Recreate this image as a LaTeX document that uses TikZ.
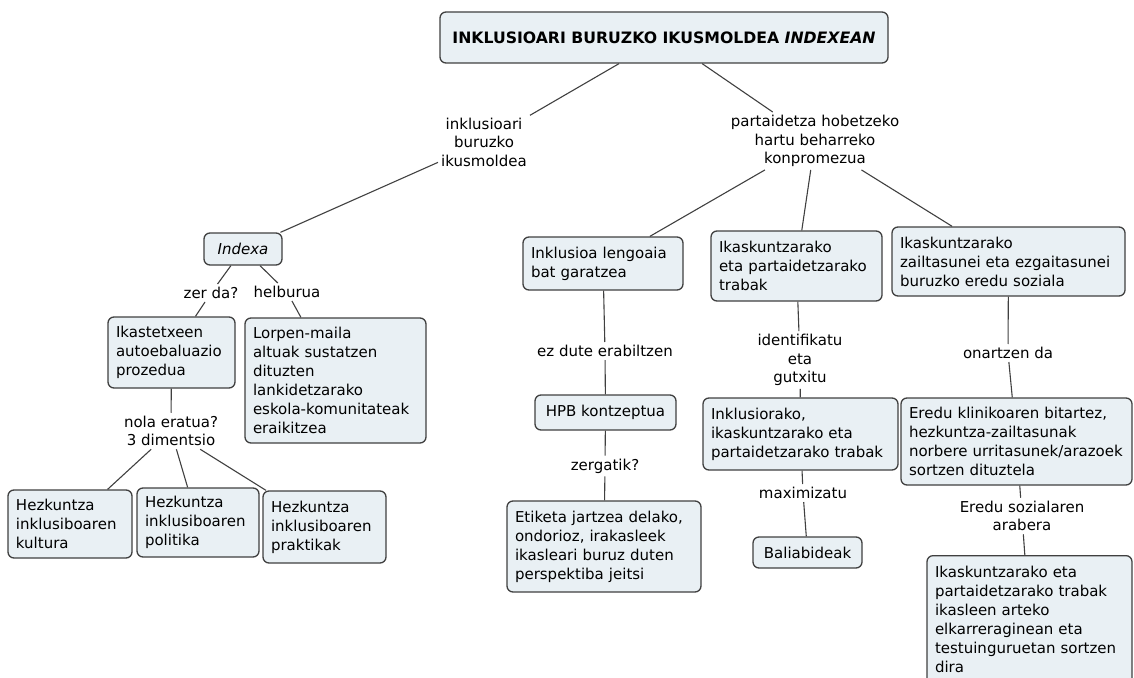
\documentclass[tikz,border=0pt]{standalone}
\usepackage{fontspec}
\setmainfont{DejaVu Sans}
\definecolor{conceptfill}{RGB}{233,240,244}
\definecolor{conceptline}{RGB}{64,64,64}
\tikzset{
  concept/.style={draw=conceptline,fill=conceptfill,rounded corners=6pt,
    line width=1.3pt,align=left,inner xsep=8pt,inner ysep=4pt,
    font=\fontsize{15}{19}\selectfont},
  phrase/.style={align=center,inner sep=3pt,font=\fontsize{15}{18.5}\selectfont},
  link/.style={draw=conceptline,line width=1.1pt},
}

\begin{document}
\begin{tikzpicture}[x=1pt,y=-1pt]
  \useasboundingbox (0,0) rectangle (1134,677);

  %% goiburua
  \node (TITLE) at (664,37.5) [concept,align=center,minimum width=448,minimum height=51]
    {\fontsize{15.7}{19}\selectfont\bfseries INKLUSIOARI BURUZKO IKUSMOLDEA \textit{INDEXEAN}};

  %% ezkerreko adarra
  \node (L1) at (484,142) [phrase] {inklusioari\\buruzko\\ikusmoldea};
  \node (INDEXA) at (243,249) [concept,align=center,minimum width=78,minimum height=32] {\textit{Indexa}};
  \node (ZERDA) at (211,293) [phrase] {zer da?};
  \node (HELBURUA) at (287,292) [phrase] {helburua};
  \node (IKAS) at (171.5,352.5) [concept,text width=111,minimum height=71]
    {Ikastetxeen\\autoebaluazio\\prozedua};
  \node (LORPEN) at (335.5,380.5) [concept,text width=165,minimum height=125]
    {Lorpen-maila\\altuak sustatzen\\dituzten\\lankidetzarako\\eskola-komunitateak\\eraikitzea};
  \node (NOLA) at (171,431) [phrase] {nola eratua?\\3 dimentsio};
  \node (KULTURA) at (70,524) [concept,text width=108,minimum height=68]
    {Hezkuntza\\inklusiboaren\\kultura};
  \node (POLITIKA) at (198,522.5) [concept,text width=106,minimum height=69]
    {Hezkuntza\\inklusiboaren\\politika};
  \node (PRAKTIKAK) at (324.5,527) [concept,text width=107,minimum height=72]
    {Hezkuntza\\inklusiboaren\\praktikak};

  %% eskuineko adarra
  \node (L2) at (815,141) [phrase] {partaidetza hobetzeko\\hartu beharreko\\konpromezua};
  \node (LENGOAIA) at (603,263.5) [concept,text width=144,minimum height=53]
    {Inklusioa lengoaia\\bat garatzea};
  \node (TRABAK) at (796.5,266) [concept,text width=155,minimum height=70]
    {Ikaskuntzarako\\eta partaidetzarako\\trabak};
  \node (SOZIALA) at (1008.5,261.5) [concept,text width=217,minimum height=69]
    {Ikaskuntzarako\\zailtasunei eta ezgaitasunei\\buruzko eredu soziala};

  \node (EZDUTE) at (605,351) [phrase] {ez dute erabiltzen};
  \node (HPB) at (605.5,412.5) [concept,align=center,minimum width=141,minimum height=35]
    {HPB kontzeptua};
  \node (ZERGATIK) at (605,466) [phrase] {zergatik?};
  \node (ETIKETA) at (604,546.5) [concept,text width=178,minimum height=91]
    {Etiketa jartzea delako,\\ondorioz, irakasleek\\ikasleari buruz duten\\perspektiba jeitsi};

  \node (IDENT) at (800,360) [phrase] {identifikatu\\eta\\gutxitu};
  \node (INKLUSIORAKO) at (800.5,434) [concept,text width=179,minimum height=72]
    {Inklusiorako,\\ikaskuntzarako eta\\partaidetzarako trabak};
  \node (MAXIM) at (803,493) [phrase] {maximizatu};
  \node (BALIABIDEAK) at (807.5,552.5) [concept,align=center,minimum width=109,minimum height=31]
    {Baliabideak};

  \node (ONARTZEN) at (1008,353) [phrase] {onartzen da};
  \node (KLINIKO) at (1016.5,441.5) [concept,text width=215,minimum height=87]
    {Eredu klinikoaren bitartez,\\hezkuntza-zailtasunak\\norbere urritasunek/arazoek\\sortzen dituztela};
  \node (SOZIALAREN) at (1022,516) [phrase] {Eredu sozialaren\\arabera};
  \node (ELKAR) at (1029.5,555) [concept,anchor=north,text width=189,minimum height=128]
    {Ikaskuntzarako eta\\partaidetzarako trabak\\ikasleen arteko\\elkarreraginean eta\\testuinguruetan sortzen\\dira};

  %% loturak
  \draw[link] (TITLE) -- (L1);
  \draw[link] (TITLE) -- (L2);
  \draw[link] (L1) -- (INDEXA);
  \draw[link] (INDEXA) -- (ZERDA);
  \draw[link] (ZERDA) -- (IKAS);
  \draw[link] (INDEXA) -- (HELBURUA);
  \draw[link] (HELBURUA) -- (LORPEN);
  \draw[link] (IKAS) -- (NOLA);
  \draw[link] (NOLA) -- (KULTURA);
  \draw[link] (NOLA) -- (POLITIKA);
  \draw[link] (NOLA) -- (PRAKTIKAK);

  \draw[link] (L2) -- (LENGOAIA);
  \draw[link] (L2) -- (TRABAK);
  \draw[link] (L2) -- (SOZIALA);
  \draw[link] (LENGOAIA) -- (EZDUTE);
  \draw[link] (EZDUTE) -- (HPB);
  \draw[link] (HPB) -- (ZERGATIK);
  \draw[link] (ZERGATIK) -- (ETIKETA);
  \draw[link] (TRABAK) -- (IDENT);
  \draw[link] (IDENT) -- (INKLUSIORAKO);
  \draw[link] (INKLUSIORAKO) -- (MAXIM);
  \draw[link] (MAXIM) -- (BALIABIDEAK);
  \draw[link] (SOZIALA) -- (ONARTZEN);
  \draw[link] (ONARTZEN) -- (KLINIKO);
  \draw[link] (KLINIKO) -- (SOZIALAREN);
  \draw[link] (SOZIALAREN) -- (ELKAR);
\end{tikzpicture}
\end{document}
